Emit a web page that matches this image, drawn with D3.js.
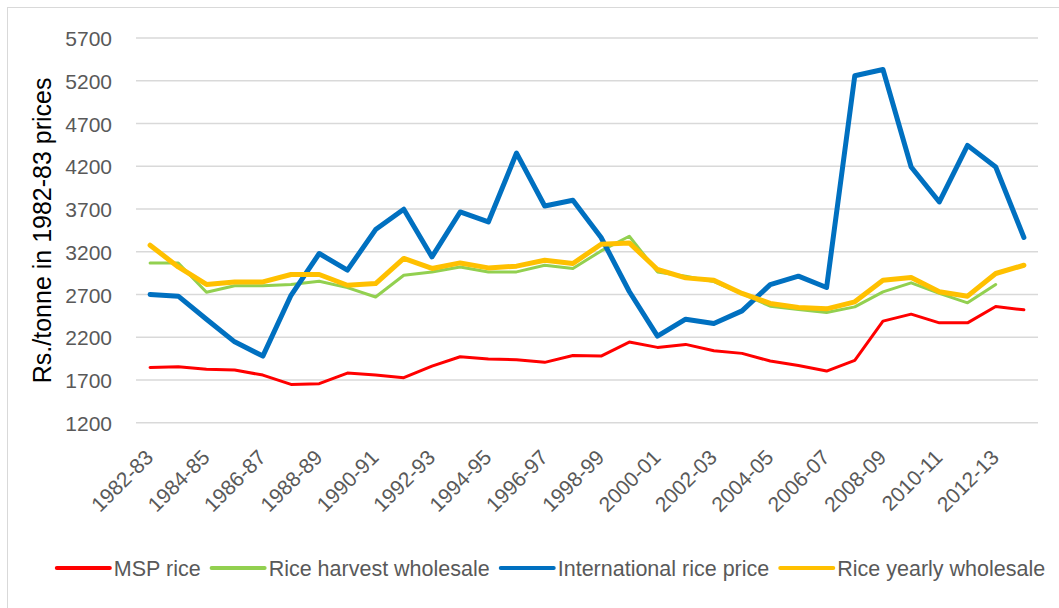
<!DOCTYPE html>
<html>
<head>
<meta charset="utf-8">
<script src="https://cdn.jsdelivr.net/npm/d3@7"></script>
<style>
  body { margin: 0; background: #fff; }
  svg { display: block; }
  text { font-family: "Liberation Sans", Arial, sans-serif; }
</style>
</head>
<body>
<svg width="1059" height="608"></svg>
<script>
var svg = d3.select('svg');

// categories (one per crop year)
var years = ['1982-83','1983-84','1984-85','1985-86','1986-87','1987-88','1988-89','1989-90',
  '1990-91','1991-92','1992-93','1993-94','1994-95','1995-96','1996-97','1997-98',
  '1998-99','1999-00','2000-01','2001-02','2002-03','2003-04','2004-05','2005-06',
  '2006-07','2007-08','2008-09','2009-10','2010-11','2011-12','2012-13','2013-14'];

// Rs./tonne in 1982-83 prices
var mspRice = [1847,1854,1824,1816,1757,1648,1656,1780,1757,1726,1862,1971,1944,1936,1906,1987,
  1979,2143,2081,2116,2041,2011,1921,1870,1804,1929,2388,2470,2368,2368,2560,2520];
var harvestWholesale = [3069,3069,2725,2801,2801,2817,2855,2780,2670,2925,2964,3022,2964,2964,3042,3004,
  3209,3381,2964,2914,2850,2710,2563,2525,2490,2555,2731,2836,2712,2602,2817,null];
var intlPrice = [2700,2680,2410,2146,1979,2690,3179,2984,3459,3697,3139,3665,3548,4354,3735,3802,
  3366,2735,2213,2411,2361,2508,2815,2914,2782,5258,5332,4191,3782,4444,4191,3366];
var yearlyWholesale = [3276,3022,2817,2847,2847,2934,2934,2808,2828,3121,3004,3069,3011,3031,3101,3062,
  3288,3303,2992,2894,2867,2712,2595,2548,2532,2614,2867,2899,2731,2680,2945,3042];

var yTicks = [1200,1700,2200,2700,3200,3700,4200,4700,5200,5700];
var xTickLabels = ['1982-83','1984-85','1986-87','1988-89','1990-91','1992-93','1994-95','1996-97',
  '1998-99','2000-01','2002-03','2004-05','2006-07','2008-09','2010-11','2012-13'];

var series = [
  {name: 'MSP rice', values: mspRice, color: '#FF0000', width: 3},
  {name: 'Rice harvest wholesale', values: harvestWholesale, color: '#92D050', width: 3},
  {name: 'International rice price', values: intlPrice, color: '#0070C0', width: 5},
  {name: 'Rice yearly wholesale', values: yearlyWholesale, color: '#FFC000', width: 5}
];

// chart frame
svg.append('rect')
    .attr('x', 7.5)
    .attr('y', 7.5)
    .attr('width', 1200)
    .attr('height', 800)
    .attr('fill', 'white')
    .attr('stroke', '#d9d9d9')
    .attr('stroke-width', 1);

var plotLeft = 136, plotRight = 1038, plotTop = 38, plotBottom = 422.7;

var x = d3.scalePoint()
    .domain(years)
    .range([plotLeft, plotRight])
    .padding(0.5);

var y = d3.scaleLinear()
    .domain([1200, 5700])
    .range([plotBottom, plotTop]);

// gridlines
svg.append('g')
    .selectAll('line')
    .data(yTicks)
    .enter()
    .append('line')
    .attr('x1', plotLeft)
    .attr('x2', plotRight)
    .attr('y1', function(d){ return y(d); })
    .attr('y2', function(d){ return y(d); })
    .attr('stroke', '#d9d9d9')
    .attr('stroke-width', 1.5);

// y axis labels
var yAxis = d3.axisLeft(y).tickValues(yTicks).tickFormat(d3.format('d')).tickSize(0).tickPadding(0);
var gy = svg.append('g')
    .attr('transform', 'translate(112,0)')
    .call(yAxis);
gy.select('.domain').remove();
gy.selectAll('text')
    .attr('font-size', 21)
    .attr('fill', '#595959')
    .attr('font-family', '"Liberation Sans", Arial, sans-serif')
    .attr('dy', '0.36em');

// x axis labels, rotated
var xAxis = d3.axisBottom(x).tickValues(xTickLabels).tickSize(0).tickPadding(0);
var gx = svg.append('g')
    .attr('transform', 'translate(0,' + plotBottom + ')')
    .call(xAxis);
gx.select('.domain').remove();
gx.selectAll('text')
    .attr('font-size', 21)
    .attr('fill', '#595959')
    .attr('font-family', '"Liberation Sans", Arial, sans-serif')
    .attr('text-anchor', 'end')
    .attr('dy', 0)
    .attr('y', 0)
    .attr('transform', 'translate(4,36) rotate(-45)');

// y axis title
svg.append('text')
    .attr('transform', 'translate(51,' + ((plotTop + plotBottom) / 2) + ') rotate(-90)')
    .attr('text-anchor', 'middle')
    .attr('font-size', 25)
    .attr('fill', '#000')
    .text('Rs./tonne in 1982-83 prices');

// lines
var line = d3.line()
    .defined(function(d){ return d != null; })
    .x(function(d, i){ return x(years[i]); })
    .y(function(d){ return y(d); });

svg.append('g')
    .selectAll('path')
    .data(series)
    .enter()
    .append('path')
    .attr('d', function(d){ return line(d.values); })
    .attr('fill', 'none')
    .attr('stroke', function(d){ return d.color; })
    .attr('stroke-width', function(d){ return d.width; })
    .attr('stroke-linejoin', 'round')
    .attr('stroke-linecap', 'round');

// legend
var legendY = 568;
var legend = svg.append('g');
var pos = 0;
series.forEach(function(s, i){
    var g = legend.append('g').attr('transform', 'translate(' + pos + ',0)');
    g.append('line')
        .attr('x1', 0).attr('x2', 53)
        .attr('y1', legendY).attr('y2', legendY)
        .attr('stroke', s.color)
        .attr('stroke-width', 4)
        .attr('stroke-linecap', 'round');
    var t = g.append('text')
        .attr('x', 57)
        .attr('y', legendY + 7.5)
        .attr('font-size', 21.5)
        .attr('fill', '#595959')
        .text(s.name);
    pos += 57 + t.node().getComputedTextLength() + 11;
});
var legendWidth = pos - 11;
legend.attr('transform', 'translate(' + (551 - legendWidth / 2) + ',0)');
</script>
</body>
</html>
